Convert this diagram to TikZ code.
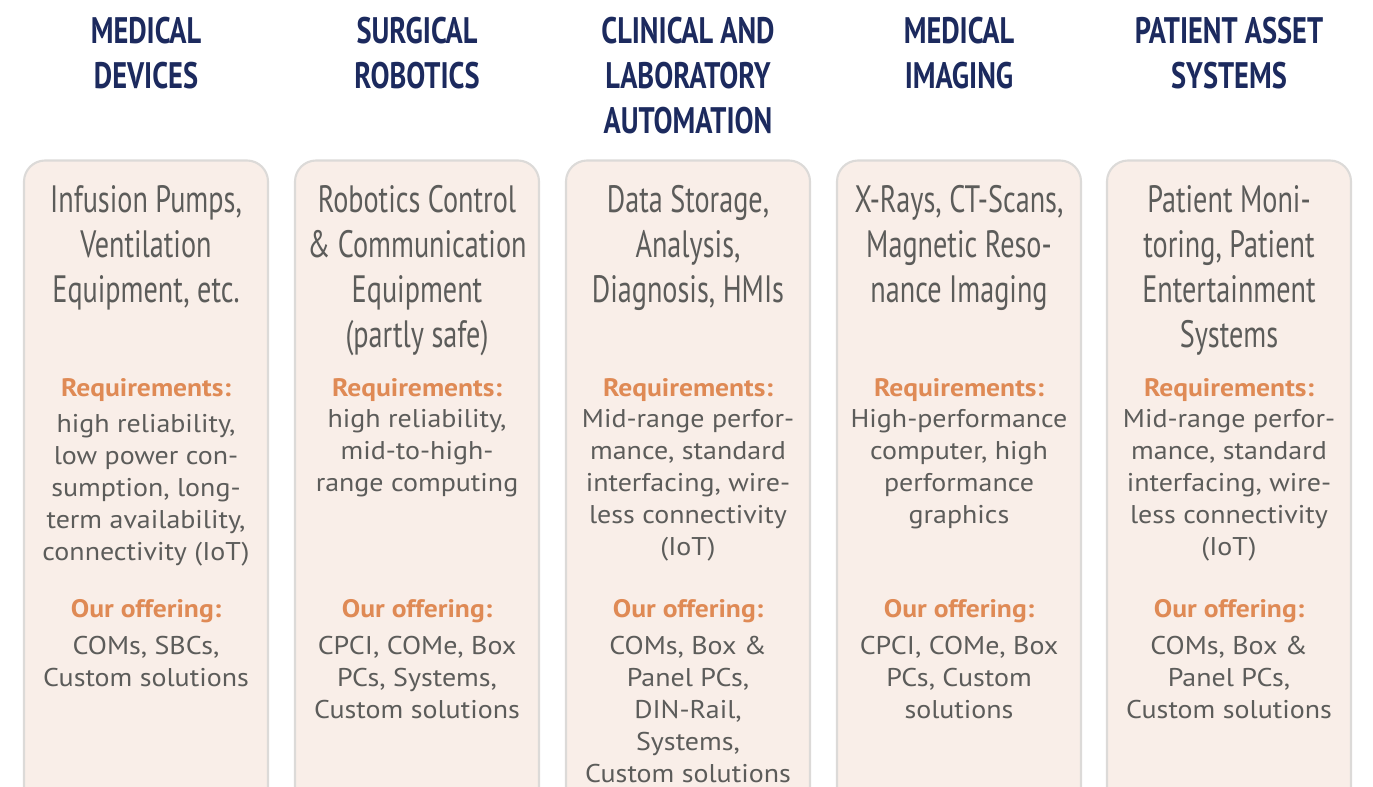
\documentclass[tikz,border=0pt]{standalone}
\usepackage{fontspec}
\usepackage{tikz}
\usepackage{xcolor}
\setmainfont[FakeStretch=1.09]{PT Sans}
\newfontfamily\narrowfont[FakeStretch=0.74]{PT Sans}
\newfontfamily\headfont[FakeStretch=0.77]{PT Sans}
\definecolor{headnavy}{RGB}{28,42,94}
\definecolor{labelorange}{RGB}{223,138,85}
\definecolor{boxfill}{RGB}{249,238,232}
\definecolor{boxline}{RGB}{220,218,216}
\definecolor{textgray}{RGB}{92,92,90}

\begin{document}
\begin{tikzpicture}[x=0.02cm,y=-0.02cm,
    headtext/.style={anchor=north,inner sep=0pt,align=center,text=headnavy,
      font=\headfont\bfseries\fontsize{21}{25.6}\selectfont},
    titletext/.style={anchor=north,inner sep=0pt,align=center,text=textgray,
      font=\narrowfont\fontsize{21.7}{25.6}\selectfont},
    labeltext/.style={anchor=base,inner sep=0pt,text=labelorange,
      font=\bfseries\fontsize{14.4}{18.2}\selectfont},
    bodytext/.style={anchor=north,inner sep=0pt,align=center,text=textgray,
      font=\fontsize{14.6}{18.2}\selectfont},
    column/.style={draw=boxline,fill=boxfill,line width=1.2pt,rounded corners=12}]
    \useasboundingbox (0,0) rectangle (1373,787);
    \clip (0,0) rectangle (1373,787);

    % Columns
    \foreach \cx in {146,417,688,959,1229}
      \draw[column] (\cx-122,160.5) rectangle (\cx+122,840);

    % Medical devices
    \node[headtext] (head1) at (146,17) {MEDICAL\\DEVICES};
    \node[titletext] (title1) at (146,185) {Infusion Pumps,\\Ventilation\\Equipment, etc.};
    \node[labeltext] (req1) at (146,397) {Requirements:};
    \node[bodytext] (reqlist1) at (146,414) {high reliability,\\low power con-\\sumption, long-\\term availability,\\connectivity (IoT)};
    \node[labeltext] (off1) at (146,617) {Our offering:};
    \node[bodytext] (offlist1) at (146,636) {COMs, SBCs,\\Custom solutions};

    % Surgical robotics
    \node[headtext] (head2) at (417,17) {SURGICAL\\ROBOTICS};
    \node[titletext] (title2) at (417,185) {Robotics Control\\\& Communication\\Equipment\\(partly safe)};
    \node[labeltext] (req2) at (417,397) {Requirements:};
    \node[bodytext] (reqlist2) at (417,409) {high reliability,\\mid-to-high-\\range computing};
    \node[labeltext] (off2) at (417,617) {Our offering:};
    \node[bodytext] (offlist2) at (417,636) {CPCI, COMe, Box\\PCs, Systems,\\Custom solutions};

    % Clinical and laboratory automation
    \node[headtext] (head3) at (688,17) {CLINICAL AND\\LABORATORY\\AUTOMATION};
    \node[titletext] (title3) at (688,185) {Data Storage,\\Analysis,\\Diagnosis, HMIs};
    \node[labeltext] (req3) at (688,397) {Requirements:};
    \node[bodytext] (reqlist3) at (688,409) {Mid-range perfor-\\mance, standard\\interfacing, wire-\\less connectivity\\(IoT)};
    \node[labeltext] (off3) at (688,617) {Our offering:};
    \node[bodytext] (offlist3) at (688,636) {COMs, Box \&\\Panel PCs,\\DIN-Rail,\\Systems,\\Custom solutions};

    % Medical imaging
    \node[headtext] (head4) at (959,17) {MEDICAL\\IMAGING};
    \node[titletext] (title4) at (959,185) {X-Rays, CT-Scans,\\Magnetic Reso-\\nance Imaging};
    \node[labeltext] (req4) at (959,397) {Requirements:};
    \node[bodytext] (reqlist4) at (959,409) {High-performance\\computer, high\\performance\\graphics};
    \node[labeltext] (off4) at (959,617) {Our offering:};
    \node[bodytext] (offlist4) at (959,636) {CPCI, COMe, Box\\PCs, Custom\\solutions};

    % Patient asset systems
    \node[headtext] (head5) at (1229,17) {PATIENT ASSET\\SYSTEMS};
    \node[titletext] (title5) at (1229,185) {Patient Moni-\\toring, Patient\\Entertainment\\Systems};
    \node[labeltext] (req5) at (1229,397) {Requirements:};
    \node[bodytext] (reqlist5) at (1229,409) {Mid-range perfor-\\mance, standard\\interfacing, wire-\\less connectivity\\(IoT)};
    \node[labeltext] (off5) at (1229,617) {Our offering:};
    \node[bodytext] (offlist5) at (1229,636) {COMs, Box \&\\Panel PCs,\\Custom solutions};
\end{tikzpicture}
\end{document}
